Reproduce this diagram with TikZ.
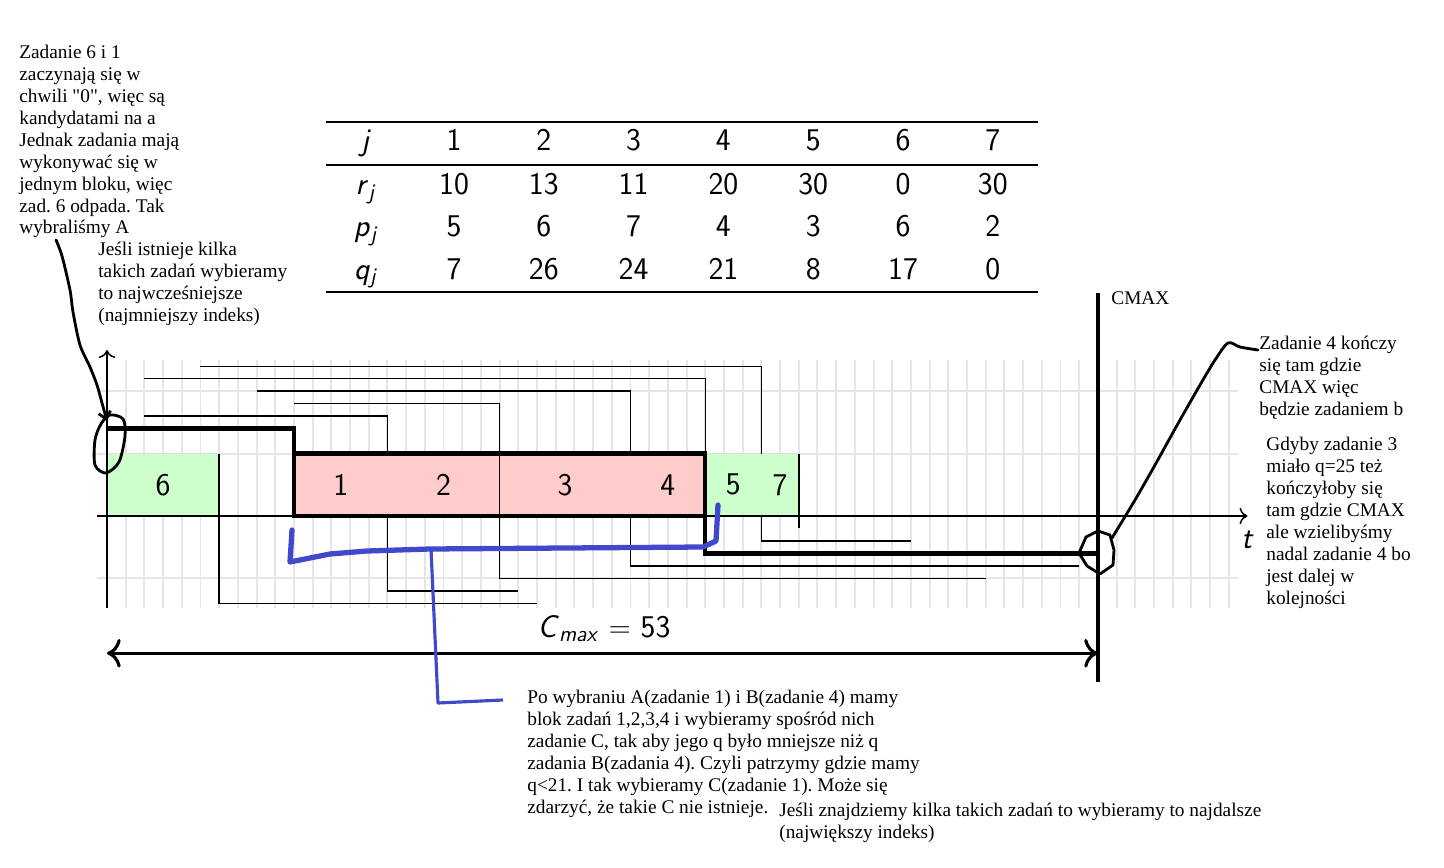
\documentclass[tikz,border=0pt]{standalone}
\usepackage{fontspec}
\setmainfont{Liberation Serif}
\usetikzlibrary{arrows.meta}
\frenchspacing
\definecolor{jobgreen}{RGB}{204,255,204}
\definecolor{jobpink}{RGB}{255,204,204}
\definecolor{penblue}{RGB}{64,72,204}
\newcommand{\sfvar}[2]{\textit{#1}\textsubscript{\textit{#2}}}
\tikzset{
  note/.style={anchor=base west, align=left, inner sep=0pt, font=\fontsize{11}{12.5}\selectfont},
  big/.style={font=\sffamily\fontsize{18}{22}\selectfont},
  gridline/.style={gray!20, line width=1.1pt},
  thin line/.style={line width=0.85pt},
  critical/.style={line width=2.5pt},
  pen/.style={black, line width=1.6pt, line cap=round, line join=round},
  bluepen/.style={penblue, line width=3pt, line cap=round, line join=round},
}

\begin{document}
\begin{tikzpicture}[x=0.02cm, y=-0.02cm]
\useasboundingbox (0,0) rectangle (1444,868);

% tabela
\draw[line width=1.3pt] (326,122) -- (1038,122);
\draw[line width=0.8pt] (326,165) -- (1038,165);
\draw[line width=1.3pt] (326,292) -- (1038,292);
\node[big, anchor=base] (hj) at (366,151) {\textit{j}};
\node[big, anchor=base] (hr) at (366,195) {\sfvar{r}{j}};
\node[big, anchor=base] (hp) at (366,237) {\sfvar{p}{j}};
\node[big, anchor=base] (hq) at (366,279) {\sfvar{q}{j}};
\foreach \k/\r/\p/\q [count=\c] in {1/10/5/7, 2/13/6/26, 3/11/7/24, 4/20/4/21, 5/30/3/8, 6/0/6/17, 7/30/2/0} {
  \node[big, anchor=base] (j\k) at ({454+89.8*(\c-1)},151) {\k};
  \node[big, anchor=base] (r\k) at ({454+89.8*(\c-1)},195) {\r};
  \node[big, anchor=base] (p\k) at ({454+89.8*(\c-1)},237) {\p};
  \node[big, anchor=base] (q\k) at ({454+89.8*(\c-1)},279) {\q};
}

% harmonogram
\begin{scope}[shift={(107,516)}, x=0.374cm, y=1.248cm]
  \draw[gridline, xstep=1, ystep=1] (-0.53,-1.47) grid (60.5,2.5);
  \foreach \i/\j/\s/\p/\r/\q/\col in {1/6/0/6/0/17/jobgreen, 2/1/10/5/10/7/jobpink,
      3/2/15/6/13/26/jobpink, 4/3/21/7/11/24/jobpink, 5/4/28/4/20/21/jobpink,
      6/5/32/3/30/8/jobgreen, 7/7/35/2/30/0/jobgreen} {
    \fill[\col] (\s,0) rectangle ++(\p,1);
    \draw[gray!25, thin line] (\s,1) -- ++(\p,0);
    \node[big] (job\j) at ({\s+\p/2},0.5) {\j};
    \draw[thin line] ({\s-\r},{1+0.2*\i}) -| (\s,1);
    \draw[thin line] ({\s+\p},1) |- ({\s+\p+\q},{-0.2*(8-\i)});
  }
  % blok 1-4
  \draw[critical] (0,1.4) -| (10,0) -- (32,0) |- (53,-0.6);
  \draw[critical] (10,1) -- (32,1) -- (32,0);
  % osie
  \draw[thin line, -{To[scale=1.3]}] (0,-1.47) -- (0,2.66);
  \draw[thin line, -{To[scale=1.3]}] (-0.53,0) -- (61,0);
  \node[big] (tlabel) at (61,-0.385) {\textit{t}};
  \draw[line width=2.5pt] (53,3.574) -- (53,-2.66);
  \draw[line width=1.8pt, {To[scale=1.4]}-{To[scale=1.4]}] (0,-2.2) -- (53,-2.2);
\end{scope}
\node[big, anchor=base] (cmaxlabel) at (604,637) {\sfvar{C}{max} $=$ 53};
\node[note] (cmax) at (1111,305) {CMAX};

% notatki (kotwica = linia bazowa ostatniego wiersza)
\node[note] (noteA) at (19,234) {Zadanie 6 i 1\\zaczynają się w\\chwili \textquotedbl 0\textquotedbl, więc są\\kandydatami na a\\Jednak zadania mają\\wykonywać się w\\jednym bloku, więc\\zad. 6 odpada. Tak\\wybraliśmy A};
\node[note] (noteFirst) at (98,321) {Jeśli istnieje kilka\\takich zadań wybieramy\\to najwcześniejsze\\(najmniejszy indeks)};
\node[note] (noteB) at (1259,415) {Zadanie 4 kończy\\się tam gdzie\\CMAX więc\\będzie zadaniem b};
\node[note] (noteQ) at (1266,604) {Gdyby zadanie 3\\miało q=25 też\\kończyłoby się\\tam gdzie CMAX\\ale wzielibyśmy\\nadal zadanie 4 bo\\jest dalej w\\kolejności};
\node[note] (noteC) at (527,813) {Po wybraniu A(zadanie 1) i B(zadanie 4) mamy\\blok zadań 1,2,3,4 i wybieramy spośród nich\\zadanie C, tak aby jego q było mniejsze niż q\\zadania B(zadania 4). Czyli patrzymy gdzie mamy\\q<21. I tak wybieramy C(zadanie 1). Może się\\zdarzyć, że takie C nie istnieje.};
\node[note] (noteLast) at (779,838) {Jeśli znajdziemy kilka takich zadań to wybieramy to najdalsze\\(największy indeks)};

% odreczne dopiski
\draw[pen, -{Straight Barb[length=4pt,width=7pt]}] plot[smooth] coordinates {(56,240) (62,256) (70,290) (73,312) (80,345) (90,367) (97,385) (102,403) (107,421)};
\draw[pen] plot[smooth cycle] coordinates {(110,415) (123,419) (125,436) (119,462) (106,473) (95,465) (95,440) (101,424)};
\draw[pen] plot[smooth] coordinates {(1112,538) (1135,500) (1155,465) (1180,420) (1200,385) (1215,360) (1228,343) (1240,347) (1258,350)};
\draw[pen] (1086,537) -- (1098,531) -- (1110,535) -- (1114,550) -- (1113,565) -- (1100,574) -- (1087,566) -- (1079,553) -- cycle;
\draw[bluepen] (292,530) -- (290,562) -- (330,554) -- (367,551) -- (430,549) -- (703,547) -- (716,541) -- (718,505);
\draw[penblue, line width=1.8pt, line join=round] (431,549) -- (438,703) -- (503,700);
\end{tikzpicture}
\end{document}
